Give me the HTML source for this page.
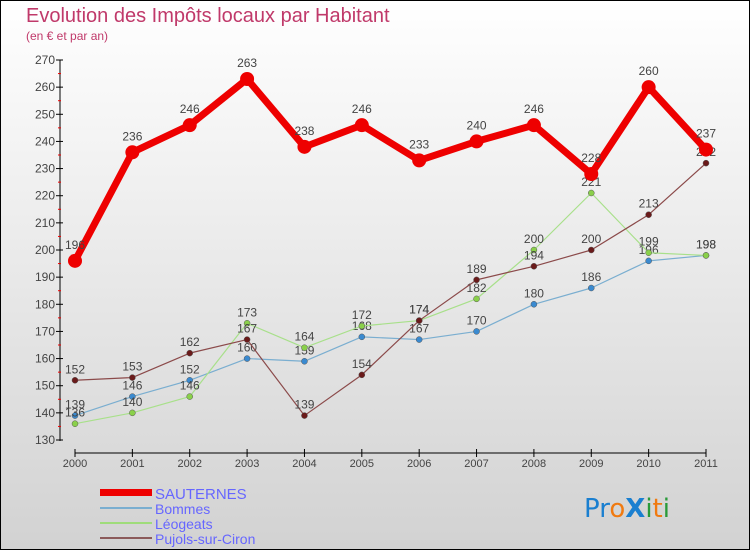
<!DOCTYPE html>
<html><head><meta charset="utf-8"><style>
body{margin:0}
#c{width:750px;height:550px;position:relative;font-family:"Liberation Sans",sans-serif}
</style></head><body>
<div id="c">
<svg id="s" width="750" height="550" xmlns="http://www.w3.org/2000/svg">
<defs><linearGradient id="bg" x1="0" y1="0" x2="0" y2="1"><stop offset="0" stop-color="#ffffff"/><stop offset="1" stop-color="#d2d2d2"/></linearGradient></defs>
<rect x="0.5" y="0.5" width="749" height="549" fill="url(#bg)" stroke="#000"/>
<text x="26" y="22" font-size="20" fill="#c0396a">Evolution des Impôts locaux par Habitant</text>
<text x="26" y="40" font-size="12" fill="#c0396a">(en € et par an)</text>
<g id="axes"></g><g id="series"></g>
<g>
<rect x="100" y="489" width="52" height="7" fill="#e00"/>
<text x="155" y="499" font-size="15" fill="#6666ff">SAUTERNES</text>
<line x1="100" y1="508" x2="152" y2="508" stroke="#7aaed0" stroke-width="2"/>
<text x="155" y="514" font-size="14" fill="#6666ff">Bommes</text>
<line x1="100" y1="523" x2="152" y2="523" stroke="#9fdc7a" stroke-width="2"/>
<text x="155" y="529" font-size="14" fill="#6666ff">Léogeats</text>
<line x1="100" y1="538" x2="152" y2="538" stroke="#8b5a5a" stroke-width="2"/>
<text x="155" y="544" font-size="14" fill="#6666ff">Pujols-sur-Ciron</text>
</g>
<text x="584" y="517" font-size="26" font-family="'DejaVu Sans',sans-serif"><tspan fill="#1a7fd0">Pr</tspan><tspan fill="#f07a10">o</tspan><tspan fill="#1a7fd0" font-weight="bold">X</tspan><tspan fill="#2a9a3a">i</tspan><tspan fill="#f07a10">t</tspan><tspan fill="#2a9a3a">i</tspan></text>
</svg>
</div>
<script>
const years=["2000","2001","2002","2003","2004","2005","2006","2007","2008","2009","2010","2011"];
const yTicks=[130,140,150,160,170,180,190,200,210,220,230,240,250,260,270];
const sauternes=[196,236,246,263,238,246,233,240,246,228,260,237];
const bommes=[139,146,152,160,159,168,167,170,180,186,196,198];
const leogeats=[136,140,146,173,164,172,174,182,200,221,199,198];
const pujols=[152,153,162,167,139,154,174,189,194,200,213,232];
const NS="http://www.w3.org/2000/svg";
function X(i){return 75+i*(631/11);}
function Y(v){return 60+(270-v)*(380/140);}
function mk(t,a,p){const e=document.createElementNS(NS,t);for(const k in a)e.setAttribute(k,a[k]);p.appendChild(e);return e;}
const ax=document.getElementById('axes');
let e=mk('line',{x1:60,y1:60,x2:60,y2:441,stroke:'#000'},ax);


e=mk('line',{x1:75,y1:453,x2:706,y2:453,stroke:'#000'},ax);


yTicks.forEach((v,i)=>{mk('line',{x1:56,y1:Y(v),x2:63,y2:Y(v),stroke:'#000'},ax);
if(i<yTicks.length-1)mk('line',{x1:58,y1:Y(v+5),x2:61,y2:Y(v+5),stroke:'#e00'},ax);
const t=mk('text',{x:55,y:Y(v)+4,'font-size':12,'text-anchor':'end',fill:'#444'},ax);t.textContent=v;

});
years.forEach((y,i)=>{mk('line',{x1:X(i),y1:449,x2:X(i),y2:457,stroke:'#000'},ax);
const t=mk('text',{x:X(i),y:467,'font-size':11,'text-anchor':'middle',fill:'#444'},ax);t.textContent=y;

});
const sg=document.getElementById('series');
function draw(d,name,col,w,r,dot){const g=mk('g',{},sg);


mk('polyline',{points:d.map((v,i)=>X(i)+','+Y(v)).join(' '),fill:'none',stroke:col,'stroke-width':w,'stroke-linejoin':'round'},g);
d.forEach((v,i)=>{const c=mk('circle',{cx:X(i),cy:Y(v),r:r,fill:dot,stroke:w>3?'none':'#555','stroke-width':0.5},g);


const t=mk('text',{x:X(i),y:Y(v)-(w>3?12:7),'font-size':12,'text-anchor':'middle',fill:'#444'},g);t.textContent=v;

});}
draw(bommes,'bommes','#7aaed0',1.2,3,'#3a8ad0');
draw(leogeats,'leogeats','#a8e08a',1.2,3,'#8ad04a');
draw(pujols,'pujols','#8b4a4a',1.2,3,'#6a1a1a');
draw(sauternes,'sauternes','#ee0000',7,7,'#ee0000');
</script>
</body></html>
